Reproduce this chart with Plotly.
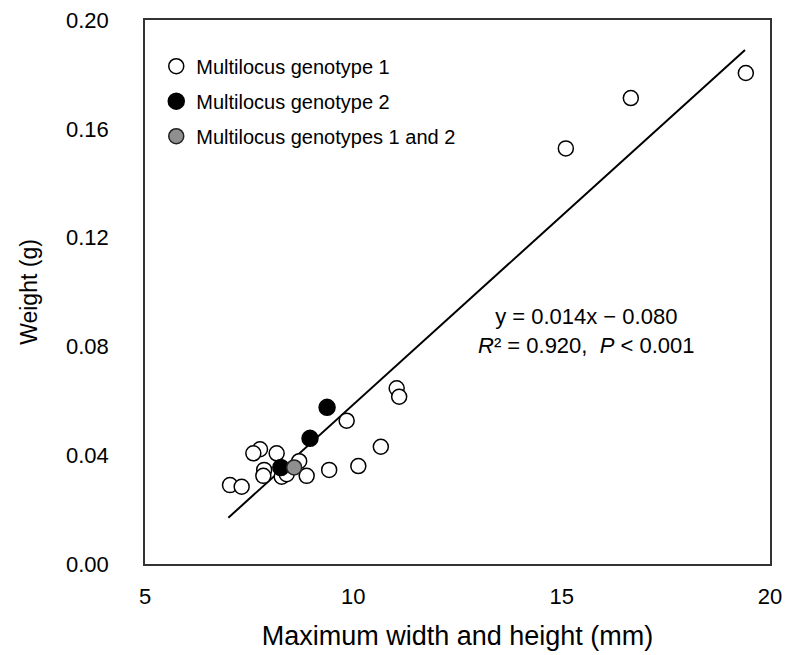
import plotly.graph_objects as go

# Multilocus genotype 1 (open circles)
g1_x = [19.42, 16.66, 15.10, 11.04, 11.10, 9.84, 10.66, 10.12, 9.42, 8.88, 8.70,
        8.16, 7.76, 7.60, 7.86, 7.84, 8.28, 8.40, 7.04, 7.32]
g1_y = [0.1805, 0.1713, 0.1528, 0.0646, 0.0615, 0.0527, 0.0431, 0.0360, 0.0346, 0.0324, 0.0378,
        0.0407, 0.0422, 0.0407, 0.0346, 0.0324, 0.0321, 0.0330, 0.0290, 0.0284]
# Multilocus genotype 2 (filled)
g2_x = [9.37, 8.96, 8.26]
g2_y = [0.0576, 0.0462, 0.0355]
# Multilocus genotypes 1 and 2 (hatched)
g12_x = [8.58]
g12_y = [0.0355]
# Regression line endpoints
fit_x = [7.0, 19.4]
fit_y = [0.017, 0.189]

x_ticks = [5, 10, 15, 20]
y_ticks = [0.00, 0.04, 0.08, 0.12, 0.16, 0.20]

FONT = "Liberation Sans, Arial, Helvetica, sans-serif"

fig = go.Figure()
fig.add_trace(go.Scatter(x=fit_x, y=fit_y, mode="lines", line=dict(color="black", width=2),
                         showlegend=False, hoverinfo="skip"))
fig.add_trace(go.Scatter(x=g1_x, y=g1_y, mode="markers", name="Multilocus genotype 1",
                         legendgroup="a",
                         marker=dict(symbol="circle", size=15, color="white",
                                     line=dict(color="black", width=1.5))))
fig.add_trace(go.Scatter(x=g2_x, y=g2_y, mode="markers", name="Multilocus genotype 2",
                         legendgroup="b",
                         marker=dict(symbol="circle", size=16, color="black",
                                     line=dict(color="black", width=1.5))))
fig.add_trace(go.Scatter(x=g12_x, y=g12_y, mode="markers", name="Multilocus genotypes 1 and 2",
                         legendgroup="c",
                         marker=dict(symbol="circle", size=15, color="#8f8f8f",
                                     line=dict(color="#222222", width=1.5))))

fig.add_annotation(x=15.6, y=0.0857, xref="x", yref="y", showarrow=False,
                   text="y = 0.014x \u2212 0.080<br><i>R</i>\u00b2 = 0.920,  <i>P</i> &lt; 0.001",
                   font=dict(family=FONT, size=22, color="black"), align="center")

fig.update_layout(
    width=785, height=655,
    margin=dict(l=145, r=15, t=20, b=91),
    paper_bgcolor="white", plot_bgcolor="white",
    font=dict(family=FONT, color="black"),
    legend=dict(x=0.018, y=0.951, xanchor="left", yanchor="top",
                font=dict(family=FONT, size=20, color="black"),
                bgcolor="rgba(0,0,0,0)", tracegroupgap=6, itemwidth=30),
    xaxis=dict(range=[5, 20], tickvals=x_ticks, ticktext=[str(v) for v in x_ticks],
               showgrid=False, zeroline=False, showline=True, mirror=True,
               linecolor="#333333", linewidth=1.5, automargin=False,
               ticklabeloverflow="allow",
               ticks="outside", ticklen=12, tickcolor="rgba(0,0,0,0)",
               tickfont=dict(family=FONT, size=22, color="black"),
               title=dict(text="Maximum width and height (mm)",
                          font=dict(family=FONT, size=27, color="black"), standoff=18)),
    yaxis=dict(range=[0, 0.20], tickvals=y_ticks, ticktext=[f"{v:.2f}" for v in y_ticks],
               showgrid=False, zeroline=False, showline=True, mirror=True,
               linecolor="#333333", linewidth=1.5, automargin=False,
               ticklabeloverflow="allow",
               ticks="outside", ticklen=30, tickcolor="rgba(0,0,0,0)",
               tickfont=dict(family=FONT, size=22, color="black"),
               title=dict(text="Weight (g)",
                          font=dict(family=FONT, size=23, color="black"), standoff=22)),
)

fig.write_html("out.html", config={"displayModeBar": False},
               post_script="document.body.style.margin='0';document.body.style.overflow='hidden';")
